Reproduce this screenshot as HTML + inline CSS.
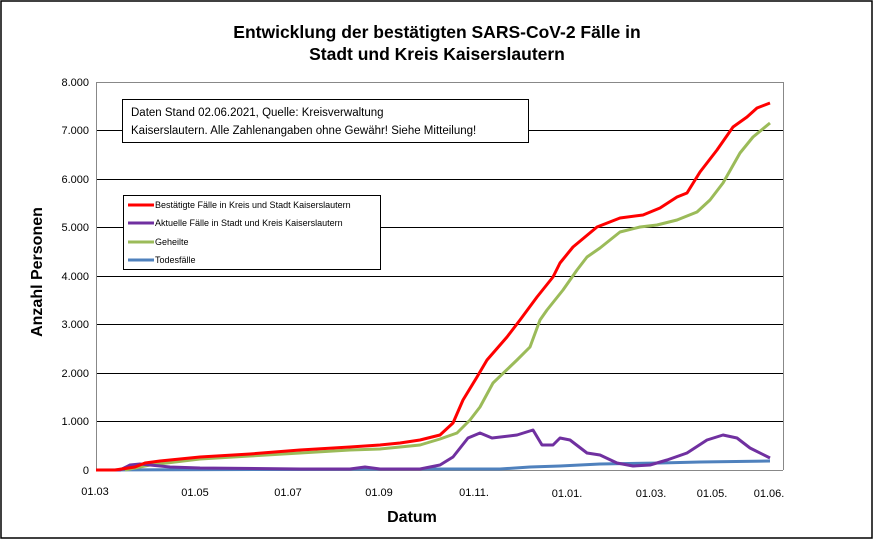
<!DOCTYPE html>
<html><head><style>
body{margin:0;background:#fff;}
svg{display:block;font-family:"Liberation Sans",sans-serif;}
</style></head><body>
<svg width="874" height="543" viewBox="0 0 874 543">
<rect x="1" y="1" width="871" height="537" fill="#fff" stroke="#000" stroke-width="1.5"/>
<text x="437" y="38" text-anchor="middle" font-size="17.5" font-weight="bold">Entwicklung der bestätigten SARS-CoV-2 Fälle in</text>
<text x="437" y="60" text-anchor="middle" font-size="17.5" font-weight="bold">Stadt und Kreis Kaiserslautern</text>
<g stroke="#000" stroke-width="1">
<line x1="96" y1="82.5" x2="783" y2="82.5" stroke="#888"/>
<line x1="96" y1="130.5" x2="783" y2="130.5"/>
<line x1="96" y1="179.5" x2="783" y2="179.5"/>
<line x1="96" y1="227.5" x2="783" y2="227.5"/>
<line x1="96" y1="276.5" x2="783" y2="276.5"/>
<line x1="96" y1="324.5" x2="783" y2="324.5"/>
<line x1="96" y1="373.5" x2="783" y2="373.5"/>
<line x1="96" y1="421.5" x2="783" y2="421.5"/>
<line x1="96.5" y1="82" x2="96.5" y2="470" stroke="#888"/>
<line x1="783.5" y1="82" x2="783.5" y2="470" stroke="#888"/>
<line x1="96" y1="470.5" x2="783" y2="470.5" stroke="#888"/>
</g>
<g font-size="11" text-anchor="end">
<text x="89" y="86">8.000</text><text x="89" y="134">7.000</text><text x="89" y="183">6.000</text>
<text x="89" y="231">5.000</text><text x="89" y="280">4.000</text><text x="89" y="328">3.000</text>
<text x="89" y="377">2.000</text><text x="89" y="425">1.000</text><text x="89" y="474">0</text>
</g>
<g font-size="11" text-anchor="middle">
<text x="95" y="495">01.03</text><text x="195" y="496">01.05</text><text x="288" y="496">01.07</text>
<text x="379" y="496">01.09</text><text x="474" y="496">01.11.</text><text x="567" y="497">01.01.</text>
<text x="651" y="497">01.03.</text><text x="712" y="497">01.05.</text><text x="769" y="497">01.06.</text>
</g>
<text x="412" y="522" text-anchor="middle" font-size="16" font-weight="bold">Datum</text>
<text transform="translate(42,272) rotate(-90)" text-anchor="middle" font-size="16" font-weight="bold">Anzahl Personen</text>
<g fill="none" stroke-width="3" stroke-linejoin="round">
<polyline stroke="#4f81bd" points="96,470 420,469 500,469 530,467 560,466 600,464 660,463 700,462 770,461"/>
<polyline stroke="#9bbb59" points="125,470 150,465 200,459 250,456 300,453 350,450 380,449 400,447 420,445 440,439 457,433 470,420 480,407 493,383 517,360 530,347 540,320 547,310 563,290 577,270 587,257 600,248 620,232 640,227 657,225 677,220 697,212 710,200 723,183 740,153 753,137 770,123"/>
<polyline stroke="#7030a0" points="96,470 120,470 130,465 140,464 150,465 170,467 200,468 300,469 350,469 365,467 380,469 420,469 440,465 453,457 468,438 480,433 492,438 517,435 533,430 542,445 553,445 560,438 570,440 587,453 600,455 617,463 633,466 650,465 667,460 687,453 707,440 723,435 737,438 750,448 770,458"/>
<polyline stroke="#ff0000" points="96,470 115,470 135,467 145,463 160,461 200,457 250,454 300,450 350,447 380,445 400,443 420,440 440,435 453,423 463,400 477,377 487,360 507,337 520,320 537,297 553,277 560,263 573,247 597,227 620,218 643,215 660,208 677,197 687,193 700,172 717,150 733,127 747,117 757,108 770,103"/>
</g>
<rect x="122.5" y="99.5" width="406" height="43" fill="#fff" stroke="#000"/>
<text x="131" y="116" font-size="11.5">Daten Stand 02.06.2021, Quelle: Kreisverwaltung</text>
<text x="131" y="134" font-size="11.5">Kaiserslautern. Alle Zahlenangaben ohne Gewähr! Siehe Mitteilung!</text>
<rect x="123.5" y="195.5" width="257" height="74" fill="#fff" stroke="#000"/>
<g stroke-width="3">
<line x1="128" y1="205" x2="154" y2="205" stroke="#ff0000"/>
<line x1="128" y1="223" x2="154" y2="223" stroke="#7030a0"/>
<line x1="128" y1="242" x2="154" y2="242" stroke="#9bbb59"/>
<line x1="128" y1="260" x2="154" y2="260" stroke="#4f81bd"/>
</g>
<g font-size="9">
<text x="155" y="208">Bestätigte Fälle in Kreis und Stadt Kaiserslautern</text>
<text x="155" y="226">Aktuelle Fälle in Stadt und Kreis Kaiserslautern</text>
<text x="155" y="245">Geheilte</text>
<text x="155" y="263">Todesfälle</text>
</g>
</svg>
</body></html>
